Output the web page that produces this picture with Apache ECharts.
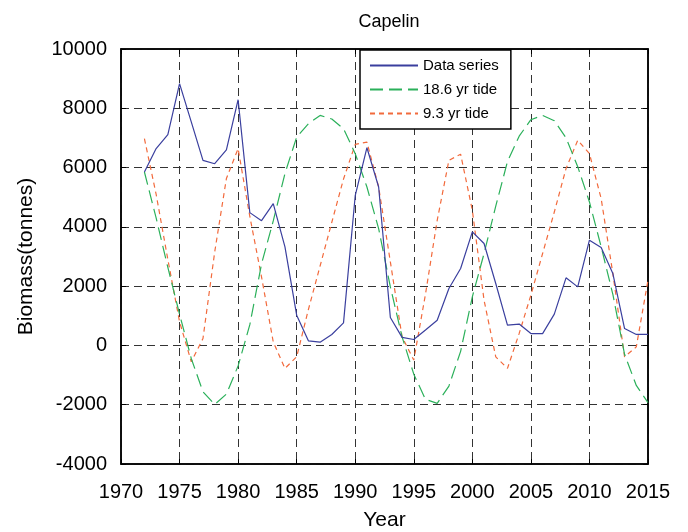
<!DOCTYPE html>
<html lang="en">
<head>
  <meta charset="UTF-8">
  <title>Capelin</title>
  <style>
    body { margin: 0; background: #fff; }
    #chart { width: 688px; height: 532px; }
  </style>
</head>
<body>
<div id="chart"></div>
<script src="https://cdn.jsdelivr.net/npm/echarts@6/dist/echarts.min.js"></script>
<script>
  // years 1972..2015
  const years = [];
  for (let y = 1972; y <= 2015; y++) years.push(y);

  // biomass (tonnes)
  const dataSeries = [5850, 6640, 7110, 8830, 7540, 6245, 6130, 6600, 8290, 4480,
    4210, 4785, 3325, 1020, 155, 110, 370, 760, 5050, 6670,
    5345, 940, 270, 200, 520, 850, 1920, 2595, 3830, 3440,
    2090, 685, 720, 400, 400, 1055, 2280, 1975, 3550, 3300,
    2425, 570, 370, 370];

  const tide186 = [5850, 4300, 2630, 1055, -440, -1565, -1990, -1640, -690, 700,
    2750, 4200, 5800, 7030, 7480, 7760, 7640, 7310, 6470, 5345,
    3940, 1975, 290, -970, -1820, -1955, -1370, -200, 1640, 3100,
    4700, 6200, 7060, 7615, 7760, 7580, 7000, 6030, 4840, 3330,
    1720, -300, -1350, -1930];

  const tide93 = [6975, 5100, 2900, 800, -550, 235, 3150, 5630, 6640, 4350,
    2310, 120, -775, -385, 1210, 2680, 4155, 5615, 6780, 6860,
    5345, 2820, 290, -495, 1730, 4220, 6245, 6450, 4560, 1525,
    -385, -775, 405, 1695, 3100, 4500, 5965, 6920, 6470, 4955,
    2425, -385, -50, 2200];

  const pairs = vals => years.map((y, i) => [y, vals[i]]);

  const font = 'Liberation Sans, Arial, sans-serif';
  const gridLine = { show: true, lineStyle: { color: '#333', width: 1, type: [8, 5] } };
  const plain = v => String(v);

  const chart = echarts.init(document.getElementById('chart'));

  chart.setOption({
    animation: false,
    title: {
      text: 'Capelin', left: 384, top: 8, textAlign: 'center',
      textStyle: { fontFamily: font, fontSize: 18, fontWeight: 'normal', color: '#000' }
    },
    legend: {
      left: 360, top: 50, orient: 'vertical',
      itemWidth: 48, itemHeight: 14, itemGap: 9,
      padding: [8, 12, 8, 9],
      borderColor: '#000', borderWidth: 1.5, backgroundColor: '#fff',
      itemStyle: { opacity: 0 },
      textStyle: { fontFamily: font, fontSize: 15, color: '#000' },
      data: ['Data series', '18.6 yr tide', '9.3 yr tide']
    },
    grid: {
      left: 121, right: 40, top: 49, bottom: 68,
      outerBoundsMode: 'none', containLabel: false,
      show: true, borderColor: '#000', borderWidth: 1.5
    },
    xAxis: [{
      type: 'value', min: 1970, max: 2015, interval: 5,
      name: 'Year', nameLocation: 'middle', nameGap: 46,
      nameTextStyle: { fontFamily: font, fontSize: 21, color: '#000' },
      axisLine: { onZero: false, lineStyle: { color: '#000', width: 1.5 } },
      axisTick: { inside: true, length: 5, lineStyle: { color: '#000' } },
      axisLabel: { fontFamily: font, fontSize: 20, color: '#000', margin: 18, formatter: plain },
      splitLine: gridLine
    }, {
      type: 'value', min: 1970, max: 2015, interval: 5, position: 'top',
      axisLine: { onZero: false, lineStyle: { color: '#000', width: 1.5 } },
      axisTick: { inside: true, length: 5, lineStyle: { color: '#000' } },
      axisLabel: { show: false }, splitLine: { show: false }
    }],
    yAxis: [{
      type: 'value', min: -4000, max: 10000, interval: 2000,
      name: 'Biomass(tonnes)', nameLocation: 'middle', nameGap: 84,
      nameTextStyle: { fontFamily: font, fontSize: 21, color: '#000' },
      axisLine: { show: true, onZero: false, lineStyle: { color: '#000', width: 1.5 } },
      axisTick: { show: true, inside: true, length: 5, lineStyle: { color: '#000' } },
      axisLabel: { fontFamily: font, fontSize: 20, color: '#000', margin: 14, formatter: plain },
      splitLine: gridLine
    }, {
      type: 'value', min: -4000, max: 10000, interval: 2000, position: 'right',
      axisLine: { show: true, onZero: false, lineStyle: { color: '#000', width: 1.5 } },
      axisTick: { show: true, inside: true, length: 5, lineStyle: { color: '#000' } },
      axisLabel: { show: false }, splitLine: { show: false }
    }],
    series: [{
      name: 'Data series', type: 'line', symbol: 'none',
      data: pairs(dataSeries), z: 5,
      itemStyle: { color: '#3a3f9e' },
      lineStyle: { color: '#3a3f9e', width: 1.2 }
    }, {
      name: '18.6 yr tide', type: 'line', symbol: 'none',
      data: pairs(tide186), z: 4,
      itemStyle: { color: '#2bb05a' },
      lineStyle: { color: '#2bb05a', width: 1.2, type: [13, 6] }
    }, {
      name: '9.3 yr tide', type: 'line', symbol: 'none',
      data: pairs(tide93), z: 3,
      itemStyle: { color: '#f26a3c' },
      lineStyle: { color: '#f26a3c', width: 1.2, type: [5, 4] }
    }]
  });
</script>
</body>
</html>
